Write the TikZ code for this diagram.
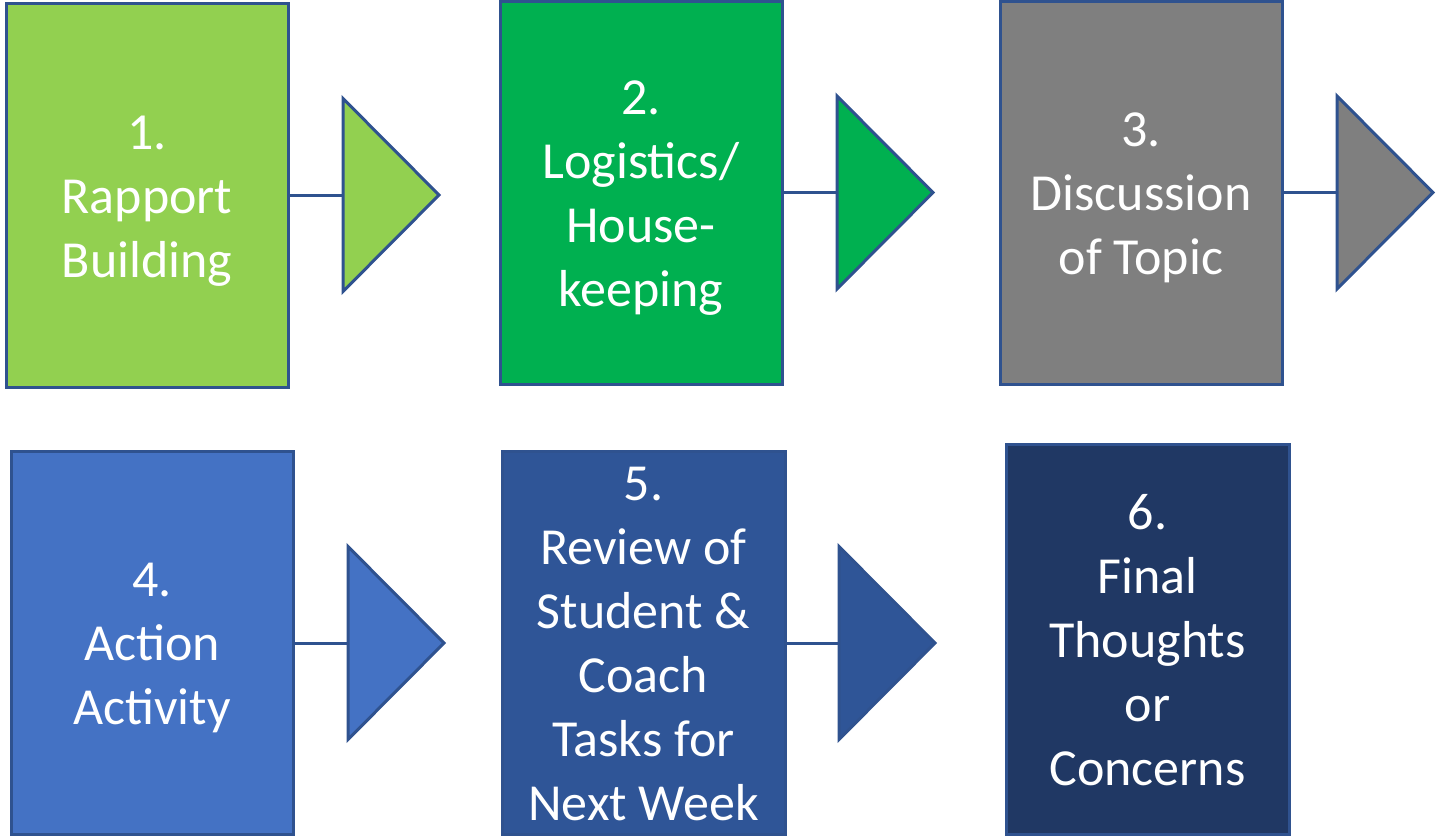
\documentclass[tikz,border=0pt]{standalone}
\usepackage{fontspec}
\setmainfont{Carlito}
\usepackage{xcolor}
\usetikzlibrary{shapes.geometric}
\definecolor{edgeblue}{HTML}{2F528F}
\definecolor{limegreen}{HTML}{92D050}
\definecolor{brightgreen}{HTML}{00B050}
\definecolor{midgray}{HTML}{7F7F7F}
\definecolor{lightblue}{HTML}{4472C4}
\definecolor{darkblue}{HTML}{2F5597}
\definecolor{navyblue}{HTML}{203864}
\newcommand{\topstrut}{\rule{0pt}{48pt}}
\newcommand{\botstrut}{\rule[-12pt]{0pt}{12pt}}

\begin{document}
\begin{tikzpicture}[x=1pt,y=-1pt,
  stage/.style={rectangle,draw=edgeblue,line width=3pt,text=white,align=center,
    inner sep=0pt,minimum width=282pt,minimum height=383pt,
    font=\fontsize{52}{64}\selectfont},
  pointer/.style={isosceles triangle,isosceles triangle stretches,draw=edgeblue,
    line width=3pt,inner sep=0pt,outer sep=0pt,minimum width=193pt,
    minimum height=96pt,anchor=lower side},
  link/.style={draw=edgeblue,line width=3pt}]
  \useasboundingbox (0,0) rectangle (1437,836);

  % top row
  \node[stage,fill=limegreen,minimum height=384pt] (b1) at (147,195) {\topstrut1.\\Rapport\\Building\botstrut};
  \node[stage,fill=brightgreen] (b2) at (641,192.5) {\topstrut2.\\Logistics/\\House-\\keeping\botstrut};
  \node[stage,fill=midgray] (b3) at (1141,192.5) {\topstrut3.\\Discussion\\of Topic\botstrut};
  \node[pointer,fill=limegreen] (t1) at (343,195) {};
  \node[pointer,fill=brightgreen] (t2) at (837,192.5) {};
  \node[pointer,fill=midgray] (t3) at (1337,192.5) {};

  % bottom row
  \node[stage,fill=lightblue] (b4) at (152,642.5) {\topstrut4.\\Action\\Activity\botstrut};
  \node[stage,fill=darkblue,minimum width=283pt] (b5) at (643.5,642.5) {\topstrut5.\\Review of\\Student \&\\Coach\\Tasks for\\Next Week\botstrut};
  \node[stage,fill=navyblue,minimum width=283pt,minimum height=390pt] (b6) at (1147.5,639) {\topstrut6.\\Final\\Thoughts\\or\\Concerns\botstrut};
  \node[pointer,fill=lightblue] (t4) at (348,643) {};
  \node[pointer,fill=darkblue] (t5) at (839,643) {};

  \draw[link] (b1.east) -- (t1.lower side);
  \draw[link] (b2.east) -- (t2.lower side);
  \draw[link] (b3.east) -- (t3.lower side);
  \draw[link] (b4.east |- t4.lower side) -- (t4.lower side);
  \draw[link] (b5.east |- t5.lower side) -- (t5.lower side);
\end{tikzpicture}
\end{document}
